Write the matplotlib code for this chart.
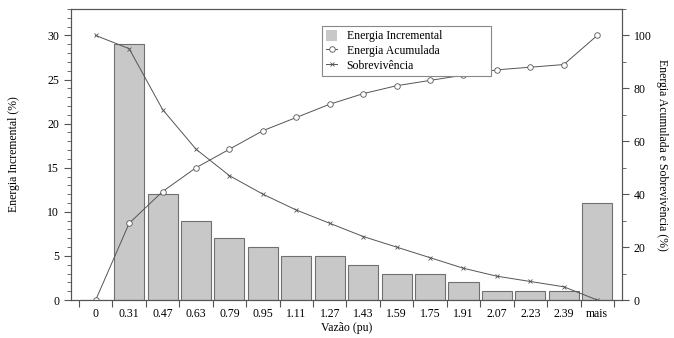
import numpy as np
import matplotlib.pyplot as plt
from matplotlib.ticker import MultipleLocator, FixedLocator

plt.rcParams['font.family'] = ['Liberation Serif', 'DejaVu Serif']
plt.rcParams['font.size'] = 8.5

categorias = ['0', '0.31', '0.47', '0.63', '0.79', '0.95', '1.11', '1.27',
              '1.43', '1.59', '1.75', '1.91', '2.07', '2.23', '2.39', 'mais']
energia_incremental = [0, 29, 12, 9, 7, 6, 5, 5, 4, 3, 3, 2, 1, 1, 1, 11]
energia_acumulada = [0, 29, 41, 50, 57, 64, 69, 74, 78, 81, 83, 85, 87, 88, 89, 100]
sobrevivencia = [100, 95, 72, 57, 47, 40, 34, 29, 24, 20, 16, 12, 9, 7, 5, 0]

cinza = '#555555'
x = np.arange(len(categorias))

fig = plt.figure(figsize=(6.74, 3.38), dpi=100)
ax = fig.add_axes([0.1053, 0.1124, 0.8175, 0.8610])
ax2 = ax.twinx()

barras = ax.bar(x, energia_incremental, width=0.9, color='#c8c8c8',
                edgecolor='#707070', linewidth=0.8, label='Energia Incremental')
l1, = ax2.plot(x, energia_acumulada, color=cinza, lw=0.7, marker='o', ms=4,
               mfc='white', mec=cinza, mew=0.6, label='Energia Acumulada')
l2, = ax2.plot(x, sobrevivencia, color=cinza, lw=0.7, marker='x', ms=2.5,
               mew=0.6, label='Sobrevivência')

ax.set_xlim(-0.74, 15.74)
ax.set_ylim(0, 33)
ax2.set_ylim(0, 110)

ax.set_xticks(x)
ax.set_xticklabels(categorias)
ax.tick_params(axis='x', which='major', length=0, pad=6)
ax.xaxis.set_minor_locator(FixedLocator(np.arange(-0.5, 16, 1)))
ax.tick_params(axis='x', which='minor', length=5, width=0.8, color='#555555')

ax.yaxis.set_major_locator(MultipleLocator(5))
ax.yaxis.set_minor_locator(MultipleLocator(1))
ax.tick_params(axis='y', which='major', length=5, width=0.8, color='#555555')
ax.tick_params(axis='y', which='minor', length=3, width=0.6, color='#555555')

ax2.yaxis.set_major_locator(MultipleLocator(20))
ax2.yaxis.set_minor_locator(MultipleLocator(10))
ax2.tick_params(axis='y', which='major', length=5, width=0.8, color='#555555')
ax2.tick_params(axis='y', which='minor', length=3, width=0.6, color='#555555')

for a in (ax, ax2):
    for s in a.spines.values():
        s.set_color('#555555')
        s.set_linewidth(0.8)

ax.set_xlabel('Vazão (pu)', labelpad=1)
ax.set_ylabel('Energia Incremental (%)', labelpad=20)
ax2.set_ylabel('Energia Acumulada e Sobrevivência (%)', rotation=270, labelpad=12)

# legenda no eixo de cima para ficar sobre as linhas
leg = ax2.legend([barras, l1, l2],
                 ['Energia Incremental', 'Energia Acumulada', 'Sobrevivência'],
                 loc='upper left', bbox_to_anchor=(0.4555, 0.80, 0.307, 0.1416),
                 mode='expand', borderaxespad=0, fancybox=False,
                 edgecolor='#888888', framealpha=1, handlelength=0.95,
                 handleheight=1.0, handletextpad=0.8, borderpad=0.35,
                 labelspacing=0.2)
leg.get_frame().set_linewidth(0.8)
leg.legend_handles[0].set_edgecolor('none')

fig.savefig('out.png', dpi=100)
